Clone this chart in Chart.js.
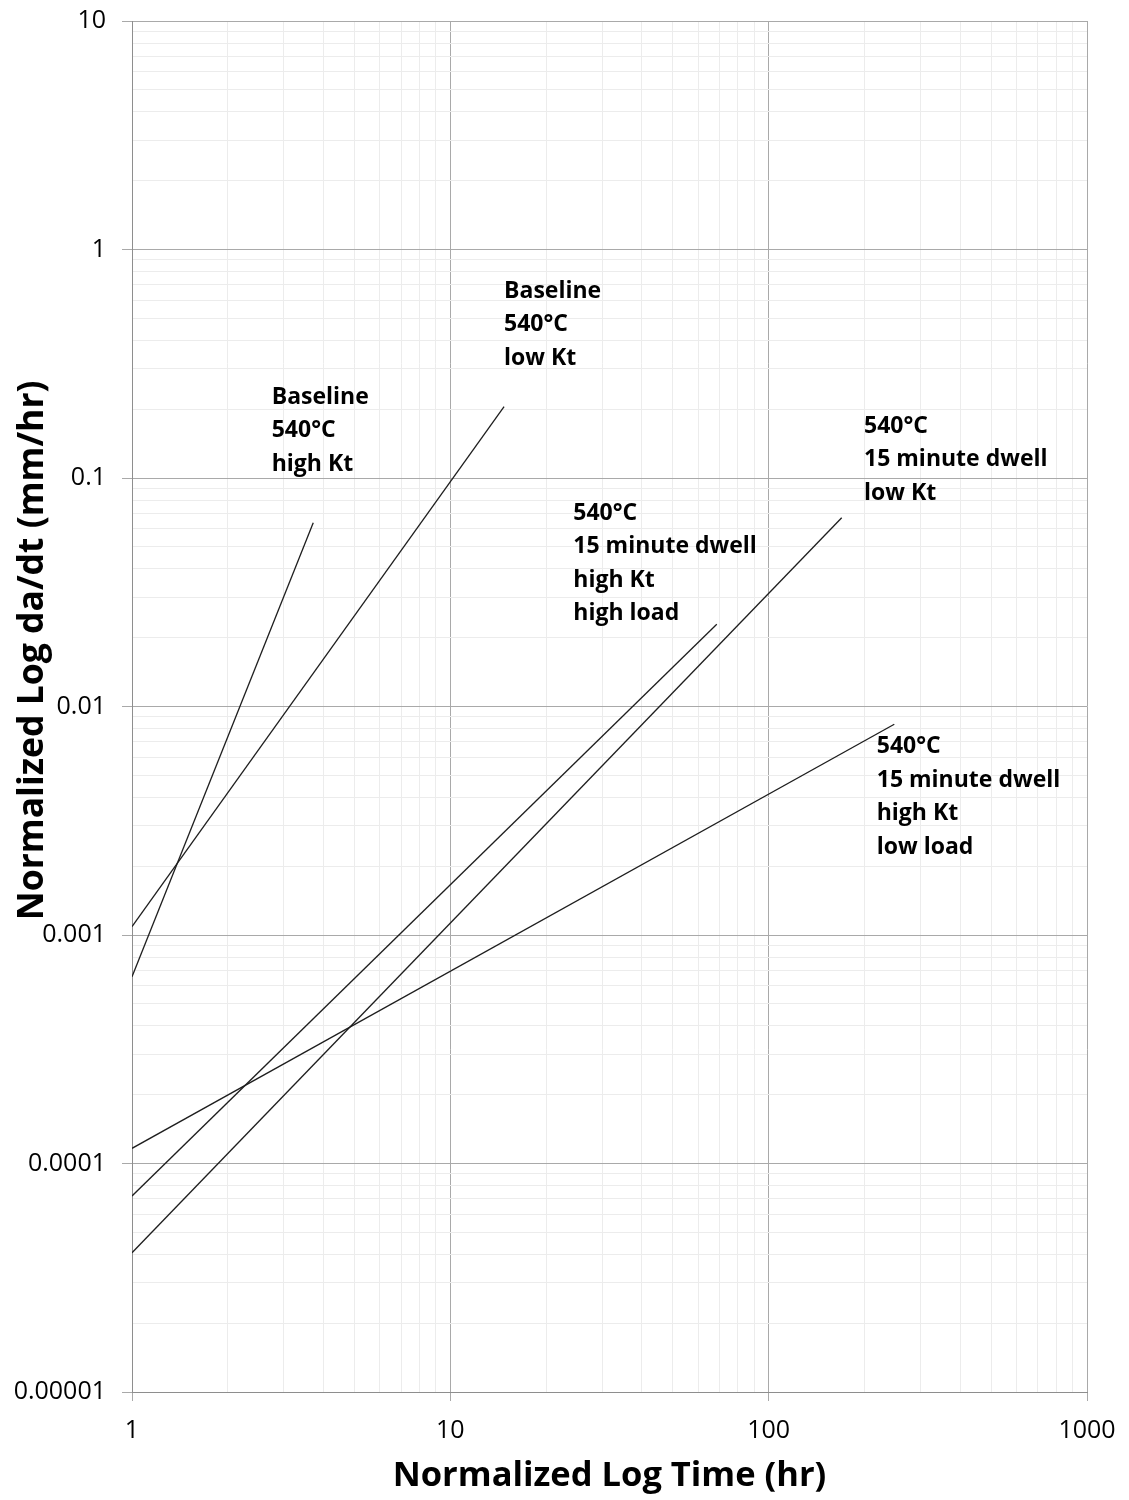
<!DOCTYPE html>
<html>
<head>
<meta charset="utf-8">
<title>Normalized crack growth rate vs time</title>
<script src="https://cdn.jsdelivr.net/npm/chart.js@4.4.1/dist/chart.umd.min.js"></script>
<style>
  html, body { margin: 0; padding: 0; background: #ffffff; }
  #wrap { width: 1129px; height: 1500px; }
</style>
</head>
<body>
<div id="wrap"><canvas id="chart" width="1129" height="1500"></canvas></div>
<script>
// Major (labelled) tick values and their labels
const xTickValues = [1, 10, 100, 1000];
const xTickLabels = ['1', '10', '100', '1000'];
const yTickValues = [0.00001, 0.0001, 0.001, 0.01, 0.1, 1, 10];
const yTickLabels = ['0.00001', '0.0001', '0.001', '0.01', '0.1', '1', '10'];

// Axis titles
const xTitle = 'Normalized Log Time (hr)';
const yTitle = 'Normalized Log da/dt (mm/hr)';

// Each fitted trend is a straight line in log-log space: start and end points
const seriesNames = [
  'Baseline 540°C high Kt',
  'Baseline 540°C low Kt',
  '540°C 15 minute dwell high Kt high load',
  '540°C 15 minute dwell low Kt',
  '540°C 15 minute dwell high Kt low load'
];
const seriesTimes = [
  [1, 3.71],
  [1, 14.75],
  [1, 68.7],
  [1, 169.6],
  [1, 248.1]
];
const seriesRates = [
  [0.000657, 0.0637],
  [0.001089, 0.2051],
  [0.0000721, 0.02289],
  [0.0000407, 0.0670],
  [0.0001165, 0.00836]
];

// Text callouts next to each trend line (anchored at chart coordinates)
const noteText = [
  ['Baseline', '540°C', 'high Kt'],
  ['Baseline', '540°C', 'low Kt'],
  ['540°C', '15 minute dwell', 'high Kt', 'high load'],
  ['540°C', '15 minute dwell', 'low Kt'],
  ['540°C', '15 minute dwell', 'high Kt', 'low load']
];
const noteTimes = [2.747, 14.75, 24.34, 199.3, 218.5];
const noteRates = [0.2296, 0.668, 0.07149, 0.1714, 0.006786];

const FONT = '"Open Sans", "Noto Sans", "DejaVu Sans", sans-serif';
const MAJOR_GRID = '#a9a9a9';
const MINOR_GRID = '#ececec';
const AXIS_LINE = '#8e8e8e';

function isDecade(v) {
  const l = Math.log10(v);
  return Math.abs(l - Math.round(l)) < 1e-9;
}

function logTicks(min, max) {
  const ticks = [];
  const lo = Math.round(Math.log10(min));
  const hi = Math.round(Math.log10(max));
  for (let e = lo; e <= hi; e++) {
    const base = Math.pow(10, e);
    for (let m = 1; m <= 9; m++) {
      const v = parseFloat((m * base).toPrecision(6));
      if (v > max * 1.0000001) break;
      ticks.push({ value: v });
    }
  }
  return ticks;
}

function labelFor(values, labels, v) {
  for (let i = 0; i < values.length; i++) {
    if (Math.abs(Math.log10(values[i]) - Math.log10(v)) < 1e-9) return labels[i];
  }
  return '';
}

const datasets = seriesNames.map((name, i) => ({
  label: name,
  data: seriesTimes[i].map((t, k) => ({ x: t, y: seriesRates[i][k] })),
  borderColor: '#1e1e1e',
  borderWidth: 1.3,
  pointRadius: 0,
  pointHoverRadius: 0,
  fill: false,
  tension: 0
}));

// Bold multi-line callouts beside the trend lines
const notesPlugin = {
  id: 'trendNotes',
  afterDatasetsDraw(chart) {
    const ctx = chart.ctx;
    const xs = chart.scales.x;
    const ys = chart.scales.y;
    const size = 23;
    const lineStep = 33.6;
    ctx.save();
    ctx.font = 'bold ' + size + 'px ' + FONT;
    ctx.fillStyle = '#000000';
    ctx.textAlign = 'left';
    ctx.textBaseline = 'alphabetic';
    noteText.forEach((lines, i) => {
      const px = xs.getPixelForValue(noteTimes[i]);
      const py = ys.getPixelForValue(noteRates[i]);
      lines.forEach((txt, j) => {
        ctx.fillText(txt, px, py + j * lineStep + size * 0.357);
      });
    });
    ctx.restore();
  }
};

// Vertical axis title, drawn rotated in the left margin
const yTitlePlugin = {
  id: 'yAxisTitle',
  afterDraw(chart) {
    const ctx = chart.ctx;
    const area = chart.chartArea;
    ctx.save();
    ctx.translate(33, area.top + (area.bottom - area.top) * 0.459);
    ctx.rotate(-Math.PI / 2);
    ctx.font = 'bold 35.5px ' + FONT;
    ctx.fillStyle = '#000000';
    ctx.textAlign = 'center';
    ctx.textBaseline = 'middle';
    ctx.fillText(yTitle, 0, 0);
    ctx.restore();
  }
};

const gridColor = (ctx) => (ctx.tick && isDecade(ctx.tick.value) ? MAJOR_GRID : MINOR_GRID);
const tickMarkColor = (ctx) => (ctx.tick && isDecade(ctx.tick.value) ? MAJOR_GRID : 'rgba(0,0,0,0)');

new Chart(document.getElementById('chart'), {
  type: 'line',
  data: { datasets },
  plugins: [notesPlugin, yTitlePlugin],
  options: {
    responsive: false,
    animation: false,
    events: [],
    layout: { padding: { top: 21, right: 42, left: 0, bottom: 0 } },
    plugins: {
      legend: { display: false },
      tooltip: { enabled: false }
    },
    scales: {
      x: {
        type: 'logarithmic',
        position: 'bottom',
        min: 1,
        max: 1000,
        afterBuildTicks(scale) { scale.ticks = logTicks(1, 1000); },
        afterFit(scale) {
          scale.height = 108;
          scale.paddingLeft = 0;
          scale.paddingRight = 0;
        },
        ticks: {
          autoSkip: false,
          maxRotation: 0,
          minRotation: 0,
          padding: 15,
          color: '#000000',
          font: { family: FONT, size: 25 },
          callback: (v) => labelFor(xTickValues, xTickLabels, v)
        },
        grid: {
          color: gridColor,
          tickColor: tickMarkColor,
          tickLength: 9,
          lineWidth: 1
        },
        border: { color: AXIS_LINE, width: 1 },
        title: {
          display: true,
          text: xTitle,
          color: '#000000',
          font: { family: FONT, size: 34.5, weight: 'bold' },
          padding: { top: 0, bottom: 3 }
        }
      },
      y: {
        type: 'logarithmic',
        position: 'left',
        min: 0.00001,
        max: 10,
        afterBuildTicks(scale) { scale.ticks = logTicks(0.00001, 10); },
        afterFit(scale) {
          scale.width = 132;
          scale.paddingTop = 0;
          scale.paddingBottom = 0;
        },
        ticks: {
          autoSkip: false,
          padding: 16,
          color: '#000000',
          font: { family: FONT, size: 25 },
          callback: (v) => labelFor(yTickValues, yTickLabels, v)
        },
        grid: {
          color: gridColor,
          tickColor: tickMarkColor,
          tickLength: 10,
          lineWidth: 1
        },
        border: { color: AXIS_LINE, width: 1 },
        title: { display: false }
      }
    }
  }
});
</script>
</body>
</html>
